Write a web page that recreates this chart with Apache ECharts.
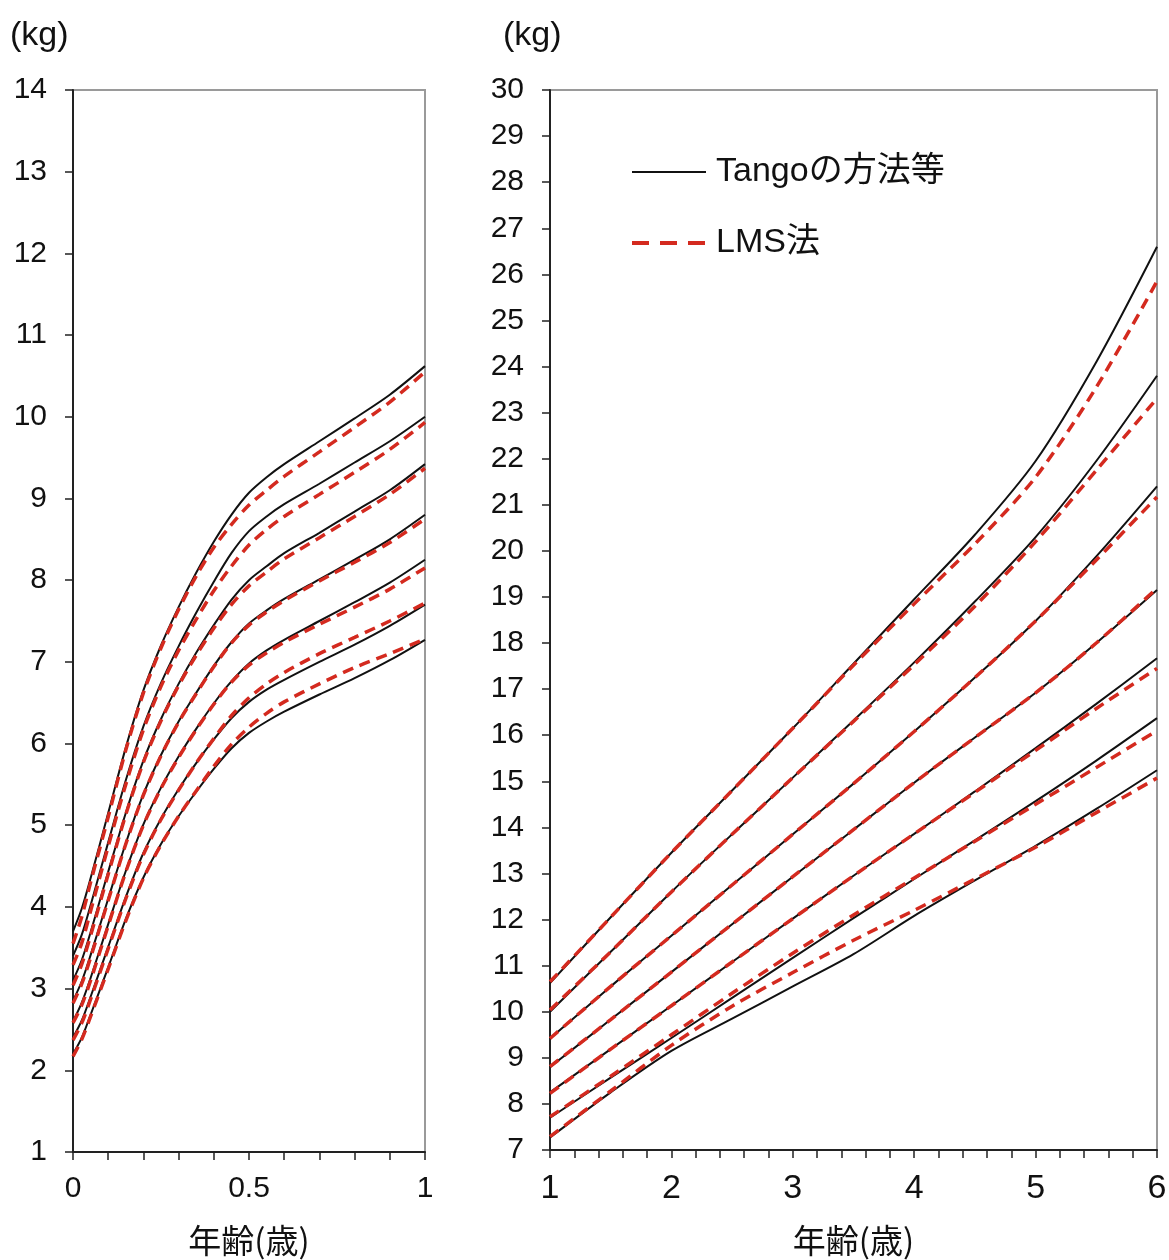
<!DOCTYPE html>
<html><head><meta charset="utf-8">
<script src="https://cdn.jsdelivr.net/npm/echarts@6/dist/echarts.min.js"></script>
<style>html,body{margin:0;padding:0;background:#fff}#c{width:1169px;height:1260px}</style>
</head><body><div id="c"></div>
<script>
// ---------- data: infants (0-1 year) ----------
const infantAges = [0, 0.025, 0.05, 0.1, 0.15, 0.2, 0.25, 0.3, 0.35, 0.4, 0.45, 0.5, 0.55, 0.6, 0.7, 0.8, 0.9, 1.0];
const infantTango = [
  [3.70, 3.98, 4.35, 5.15, 5.95, 6.65, 7.20, 7.67, 8.09, 8.47, 8.80, 9.07, 9.26, 9.42, 9.70, 9.98, 10.27, 10.62],
  [3.40, 3.66, 4.02, 4.79, 5.55, 6.21, 6.74, 7.19, 7.60, 7.98, 8.33, 8.60, 8.78, 8.93, 9.18, 9.44, 9.70, 10.00],
  [3.10, 3.35, 3.69, 4.43, 5.15, 5.79, 6.30, 6.73, 7.11, 7.45, 7.76, 8.00, 8.17, 8.33, 8.58, 8.84, 9.10, 9.42],
  [2.85, 3.09, 3.41, 4.10, 4.78, 5.38, 5.86, 6.27, 6.62, 6.95, 7.24, 7.47, 7.63, 7.77, 8.01, 8.25, 8.50, 8.80],
  [2.60, 2.83, 3.13, 3.79, 4.44, 5.01, 5.46, 5.84, 6.18, 6.49, 6.76, 6.98, 7.14, 7.27, 7.50, 7.73, 7.97, 8.25],
  [2.40, 2.61, 2.90, 3.51, 4.12, 4.66, 5.08, 5.44, 5.76, 6.05, 6.31, 6.51, 6.66, 6.78, 7.00, 7.21, 7.44, 7.70],
  [2.20, 2.40, 2.68, 3.26, 3.85, 4.36, 4.77, 5.11, 5.41, 5.69, 5.94, 6.13, 6.27, 6.39, 6.60, 6.80, 7.02, 7.27]
];
const infantLMS = [
  [3.55, 3.88, 4.30, 5.10, 5.92, 6.62, 7.17, 7.64, 8.05, 8.40, 8.68, 8.92, 9.10, 9.27, 9.57, 9.87, 10.18, 10.55],
  [3.29, 3.56, 3.95, 4.74, 5.50, 6.17, 6.70, 7.14, 7.52, 7.87, 8.17, 8.43, 8.62, 8.78, 9.05, 9.32, 9.60, 9.93],
  [3.04, 3.30, 3.65, 4.40, 5.13, 5.77, 6.28, 6.71, 7.08, 7.41, 7.70, 7.93, 8.10, 8.26, 8.52, 8.78, 9.05, 9.37],
  [2.82, 3.06, 3.38, 4.08, 4.77, 5.37, 5.85, 6.26, 6.61, 6.94, 7.23, 7.45, 7.61, 7.75, 7.99, 8.22, 8.46, 8.75],
  [2.58, 2.80, 3.10, 3.77, 4.43, 5.00, 5.45, 5.83, 6.17, 6.48, 6.75, 6.96, 7.11, 7.24, 7.46, 7.67, 7.89, 8.15],
  [2.37, 2.58, 2.87, 3.49, 4.10, 4.64, 5.07, 5.43, 5.76, 6.06, 6.34, 6.56, 6.73, 6.87, 7.10, 7.30, 7.50, 7.72],
  [2.17, 2.38, 2.66, 3.24, 3.83, 4.35, 4.76, 5.11, 5.42, 5.72, 5.99, 6.20, 6.37, 6.51, 6.73, 6.93, 7.10, 7.28]
];
// ---------- data: children (1-6 years) ----------
const childAges = [1, 1.5, 2, 2.5, 3, 3.5, 4, 4.5, 5, 5.5, 6];
const childTango = [
  [10.62, 12.05, 13.45, 14.80, 16.15, 17.55, 18.95, 20.35, 21.95, 24.10, 26.60],
  [10.00, 11.30, 12.60, 13.85, 15.08, 16.32, 17.58, 18.90, 20.30, 21.95, 23.80],
  [9.42, 10.55, 11.65, 12.75, 13.85, 14.95, 16.08, 17.25, 18.48, 19.88, 21.40],
  [8.80, 9.83, 10.86, 11.90, 12.93, 13.95, 14.97, 15.95, 16.92, 18.00, 19.15],
  [8.25, 9.19, 10.13, 11.08, 12.02, 12.95, 13.86, 14.78, 15.72, 16.68, 17.67],
  [7.70, 8.57, 9.43, 10.30, 11.17, 12.03, 12.88, 13.72, 14.57, 15.45, 16.37],
  [7.27, 8.25, 9.15, 9.85, 10.55, 11.25, 12.08, 12.85, 13.60, 14.40, 15.24]
];
const childLMS = [
  [10.65, 12.05, 13.45, 14.80, 16.15, 17.52, 18.85, 20.15, 21.60, 23.55, 25.85],
  [10.04, 11.30, 12.60, 13.85, 15.08, 16.30, 17.53, 18.80, 20.20, 21.75, 23.31],
  [9.42, 10.55, 11.65, 12.75, 13.85, 14.95, 16.08, 17.25, 18.48, 19.80, 21.17],
  [8.81, 9.83, 10.86, 11.90, 12.93, 13.95, 14.97, 15.95, 16.92, 18.00, 19.19],
  [8.23, 9.19, 10.13, 11.08, 12.02, 12.95, 13.86, 14.76, 15.67, 16.58, 17.45],
  [7.72, 8.60, 9.50, 10.40, 11.27, 12.10, 12.90, 13.70, 14.50, 15.30, 16.10],
  [7.29, 8.28, 9.27, 10.12, 10.85, 11.55, 12.20, 12.88, 13.57, 14.32, 15.07]
];
const seriesNames = ['Tangoの方法等', 'LMS法'];
const unitLabel = '(kg)';
const axisTitle = '年齢(歳)';

// ---------- chart ----------
const BLACK = '#111111';
const RED = '#d42a1f';
const numFont = "'Liberation Sans', Arial, sans-serif";
const jpFont = "'Noto Sans CJK JP', sans-serif";

function pairs(xs, ys) { return xs.map((x, i) => [x, ys[i]]); }
const series = [];
function addSet(xs, tango, lms, idx) {
  tango.forEach(ys => series.push({
    type: 'line', name: seriesNames[0], xAxisIndex: idx, yAxisIndex: idx,
    data: pairs(xs, ys), showSymbol: false, smooth: 0.3,
    lineStyle: { color: BLACK, width: 2 }, z: 2, silent: true
  }));
  lms.forEach(ys => series.push({
    type: 'line', name: seriesNames[1], xAxisIndex: idx, yAxisIndex: idx,
    data: pairs(xs, ys), showSymbol: false, smooth: 0.3,
    lineStyle: { color: RED, width: 3.5, type: [11, 7] }, z: 3, silent: true
  }));
}
addSet(infantAges, infantTango, infantLMS, 0);
addSet(childAges, childTango, childLMS, 1);

const near = (v, step) => Math.abs(v / step - Math.round(v / step)) < 1e-6;

const axisLineStyle = { show: true, lineStyle: { color: '#222', width: 2 } };
const tickStyle = { show: true, length: 8, lineStyle: { color: '#222', width: 1.5 } };

const option = {
  animation: false,
  backgroundColor: '#fff',
  grid: [
    { left: 73, top: 90, width: 352, height: 1062, show: true, borderColor: '#9a9a9a', borderWidth: 2, outerBoundsMode: 'none' },
    { left: 550, top: 90, width: 607, height: 1060, show: true, borderColor: '#9a9a9a', borderWidth: 2, outerBoundsMode: 'none' }
  ],
  xAxis: [
    { type: 'value', gridIndex: 0, min: 0, max: 1, interval: 0.1,
      axisLine: axisLineStyle, axisTick: tickStyle, splitLine: { show: false },
      axisLabel: { margin: 22, fontSize: 30, color: BLACK, fontFamily: numFont,
        formatter: v => near(v, 0.5) ? String(+v.toFixed(1)) : '' },
      name: axisTitle, nameLocation: 'middle', nameGap: 72,
      nameTextStyle: { fontSize: 33, color: BLACK, fontFamily: jpFont } },
    { type: 'value', gridIndex: 1, min: 1, max: 6, interval: 0.2,
      axisLine: axisLineStyle, axisTick: tickStyle, splitLine: { show: false },
      axisLabel: { margin: 22, fontSize: 34, color: BLACK, fontFamily: "'Liberation Sans Narrow', " + numFont,
        formatter: v => near(v, 1) ? String(Math.round(v)) : '' },
      name: axisTitle, nameLocation: 'middle', nameGap: 74,
      nameTextStyle: { fontSize: 33, color: BLACK, fontFamily: jpFont } }
  ],
  yAxis: [
    { type: 'value', gridIndex: 0, min: 1, max: 14, interval: 1,
      axisLine: axisLineStyle, axisTick: tickStyle, splitLine: { show: false },
      axisLabel: { margin: 26, fontSize: 30, color: BLACK, fontFamily: numFont } },
    { type: 'value', gridIndex: 1, min: 7, max: 30, interval: 1,
      axisLine: axisLineStyle, axisTick: tickStyle, splitLine: { show: false },
      axisLabel: { margin: 26, fontSize: 30, color: BLACK, fontFamily: numFont } }
  ],
  graphic: [
    { type: 'text', left: 10, top: 19, style: { text: unitLabel, fontSize: 34, fill: BLACK, fontFamily: numFont } },
    { type: 'text', left: 503, top: 19, style: { text: unitLabel, fontSize: 34, fill: BLACK, fontFamily: numFont } },
    { type: 'line', shape: { x1: 632, y1: 172, x2: 706, y2: 172 }, style: { stroke: BLACK, lineWidth: 2 } },
    { type: 'text', x: 716, y: 172, style: { text: seriesNames[0], fontSize: 34, fill: BLACK, verticalAlign: 'middle', fontFamily: "'Liberation Sans', 'Noto Sans CJK JP', sans-serif" } },
    { type: 'line', shape: { x1: 632, y1: 243, x2: 706, y2: 243 }, style: { stroke: RED, lineWidth: 4, lineDash: [17, 11] } },
    { type: 'text', x: 716, y: 243, style: { text: seriesNames[1], fontSize: 34, fill: BLACK, verticalAlign: 'middle', fontFamily: "'Liberation Sans', 'Noto Sans CJK JP', sans-serif" } }
  ],
  series: series
};
const chart = echarts.init(document.getElementById('c'), null, { renderer: 'canvas' });
chart.setOption(option);
</script>
</body></html>
